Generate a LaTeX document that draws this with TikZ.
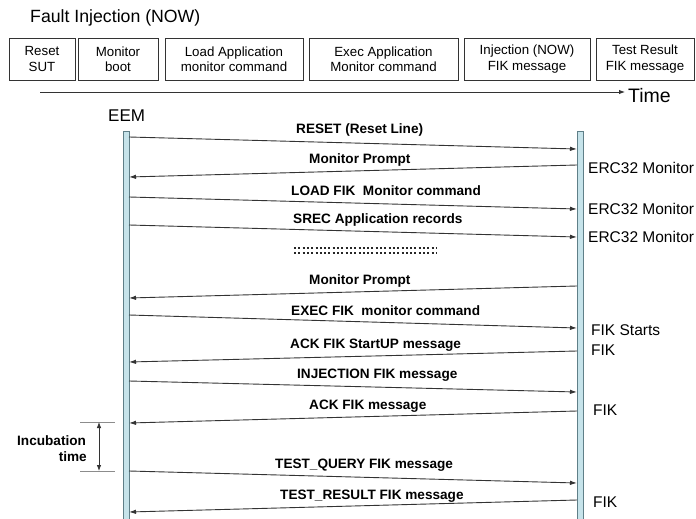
\documentclass[tikz,border=0pt]{standalone}
\usepackage{fontspec}
\setmainfont{Liberation Sans}
\usetikzlibrary{arrows.meta}
\definecolor{barfill}{HTML}{C6E3EA}
\definecolor{bardraw}{HTML}{5F7F88}
\definecolor{ink}{HTML}{333333}
\begin{document}
\begin{tikzpicture}[x=1pt,y=-1pt,
  box/.style={draw=ink, line width=0.9pt, minimum height=42pt, inner sep=0pt, align=center,
              font=\fontsize{13.3}{15.5}\selectfont},
  msg/.style={draw=ink, line width=0.9pt, -{Latex[length=7pt,width=4.5pt]}},
  lbl/.style={anchor=base west, inner sep=0pt, font=\bfseries\fontsize{13.6}{16}\selectfont},
  side/.style={anchor=base west, inner sep=0pt, font=\fontsize{15.5}{18}\selectfont},
  lifebar/.style={draw=bardraw, fill=barfill, line width=0.8pt, inner sep=0pt, minimum width=6pt, anchor=north},
  tick/.style={draw=black!45, line width=0.8pt},
  dots/.style={draw=black!85, line width=2pt, dash pattern=on 2pt off 2.3pt}
]
\useasboundingbox (0,0) rectangle (696,519);

% title
\node[anchor=base west, inner sep=0pt, font=\fontsize{17.7}{20}\selectfont] (title) at (30,23) {Fault Injection (NOW)};

% phase boxes
\node[box, minimum width=66pt]  (b1) at (42,59)    {Reset\\SUT};
\node[box, minimum width=80pt]  (b2) at (118,59)   {Monitor\\boot};
\node[box, minimum width=138pt] (b3) at (234,59)   {Load Application\\monitor command};
\node[box, minimum width=149pt] (b4) at (383.5,59) {Exec Application\\Monitor command};
\node[box, minimum width=126pt] (b5) at (527,59)   {Injection (NOW)\\FIK message};
\node[box, minimum width=98pt]  (b6) at (645,59)   {Test Result\\FIK message};

% time axis
\coordinate (t0) at (40,92);
\coordinate (t1) at (625,92);
\draw[draw=ink, line width=0.9pt, -{Latex[length=6pt,width=4.5pt]}] (t0) -- (t1);
\node[anchor=base west, inner sep=0pt, font=\fontsize{19.5}{22}\selectfont] (time) at (628,102) {Time};

% lifelines
\node[anchor=base west, inner sep=0pt, font=\fontsize{17}{20}\selectfont] (eemlbl) at (108,121) {EEM};
\node[lifebar, minimum height=392pt] (eem) at (126,131) {};
\node[lifebar, minimum height=392pt] (erc) at (580,131) {};

% message end points
\foreach \i/\ya/\yb in {1/137/149, 2/165/177, 3/197/209, 4/225/237, 6/286/298,
                        7/315/328, 8/351/362, 9/381/392, 10/411/423, 11/471/483, 12/500/512}{
  \coordinate (L\i a) at (129,\ya);
  \coordinate (R\i a) at (577,\ya);
  \coordinate (L\i b) at (129,\yb);
  \coordinate (R\i b) at (577,\yb);
}

% messages
\draw[msg] (L1a) -- (R1b);
\draw[msg] (R2a) -- (L2b);
\draw[msg] (L3a) -- (R3b);
\draw[msg] (L4a) -- (R4b);
\draw[msg] (R6a) -- (L6b);
\draw[msg] (L7a) -- (R7b);
\draw[msg] (R8a) -- (L8b);
\draw[msg] (L9a) -- (R9b);
\draw[msg] (R10a) -- (L10b);
\draw[msg] (L11a) -- (R11b);
\draw[msg] (R12a) -- (L12b);

% message labels
\node[lbl] (l1)  at (296,133) {RESET (Reset Line)};
\node[lbl] (l2)  at (309,163) {Monitor Prompt};
\node[lbl] (l3)  at (291,195) {LOAD FIK~ Monitor command};
\node[lbl] (l4)  at (293,223) {SREC Application records};
\node[lbl] (l6)  at (309,284) {Monitor Prompt};
\node[lbl] (l7)  at (291,315) {EXEC FIK~ monitor command};
\node[lbl] (l8)  at (290,348) {ACK FIK StartUP message};
\node[lbl] (l9)  at (297,378) {INJECTION FIK message};
\node[lbl] (l10) at (309,409) {ACK FIK message};
\node[lbl] (l11) at (275,468) {TEST\_QUERY FIK message};
\node[lbl] (l12) at (280,499) {TEST\_RESULT FIK message};

% dotted continuation
\coordinate (d1a) at (294,247.5); \coordinate (d1b) at (436,247.5);
\coordinate (d2a) at (294,252.5); \coordinate (d2b) at (436,252.5);
\draw[dots] (d1a) -- (d1b);
\draw[dots] (d2a) -- (d2b);

% right side labels
\node[side] (s1) at (588,173) {ERC32 Monitor};
\node[side] (s2) at (588,214) {ERC32 Monitor};
\node[side] (s3) at (588,242) {ERC32 Monitor};
\node[side] (s4) at (591,335) {FIK Starts};
\node[side] (s5) at (591,355) {FIK};
\node[side] (s6) at (593,415) {FIK};
\node[side] (s7) at (593,507) {FIK};

% incubation time
\coordinate (i1a) at (80,422); \coordinate (i1b) at (115,422);
\coordinate (i2a) at (80,471); \coordinate (i2b) at (115,471);
\coordinate (ia) at (99,422);  \coordinate (ib) at (99,471);
\draw[tick] (i1a) -- (i1b);
\draw[tick] (i2a) -- (i2b);
\draw[draw=ink, line width=0.8pt, {Latex[length=6pt,width=4.5pt]}-{Latex[length=6pt,width=4.5pt]}] (ia) -- (ib);
\node[anchor=base west, inner sep=0pt, font=\bfseries\fontsize{13.6}{16}\selectfont] (inc1) at (17,445) {Incubation};
\node[anchor=base east, inner sep=0pt, font=\bfseries\fontsize{13.6}{16}\selectfont] (inc2) at (87,461) {time};
\end{tikzpicture}
\end{document}
